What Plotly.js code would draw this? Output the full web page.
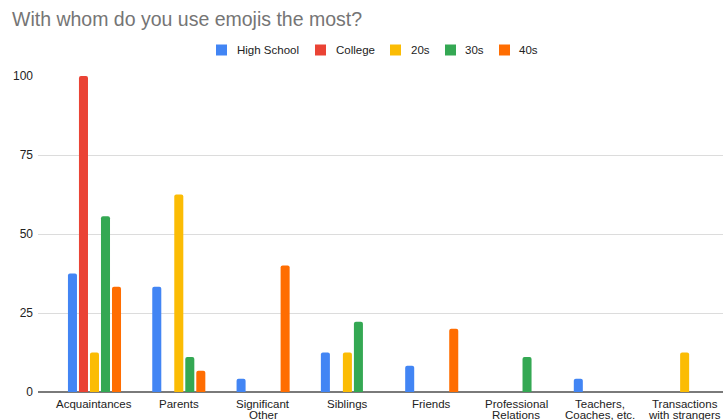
<!DOCTYPE html>
<html>
<head>
<meta charset="utf-8">
<script src="https://cdn.plot.ly/plotly-3.0.1.min.js"></script>
<style>html,body{margin:0;padding:0;background:#fff;}#chart{width:723px;height:420px;}</style>
</head>
<body>
<div id="chart"></div>
<script>
const categories = ["Acquaintances", "Parents", "Significant<br>Other", "Siblings", "Friends", "Professional<br>Relations", "Teachers,<br>Coaches, etc.", "Transactions<br>with strangers"];
const seriesNames = ["High School", "College", "20s", "30s", "40s"];
const highSchool = [37.5, 33.3, 4.2, 12.5, 8.3, 0, 4.2, 0];
const college = [100, 0, 0, 0, 0, 0, 0, 0];
const twenties = [12.5, 62.5, 0, 12.5, 0, 0, 0, 12.5];
const thirties = [55.6, 11.1, 0, 22.2, 0, 11.1, 0, 0];
const forties = [33.3, 6.7, 40, 0, 20, 0, 0, 0];
const yTicks = [0, 25, 50, 75, 100];

const colors = ["#4285F4", "#EA4335", "#FBBC04", "#34A853", "#FF6D01"];
const allSeries = [highSchool, college, twenties, thirties, forties];
const xIdx = categories.map((c, i) => i);

const traces = allSeries.map((vals, k) => ({
  type: "bar",
  name: seriesNames[k],
  x: xIdx,
  y: vals,
  marker: {color: colors[k], cornerradius: 2},
  hoverinfo: "none",
  showlegend: false
}));

const W = 723, H = 420, ML = 38, MR = 0, MT = 76, MB = 28;
const pw = W - ML - MR, ph = H - MT - MB;
const px2x = p => (p - ML) / pw;
const py2y = p => (H - MB - p) / ph;

const shapes = [];
const annotations = [];

// Legend drawn as layout shapes + annotations
const legendSquareLeft = [216, 315, 390, 445, 499];
const legendTextLeft = [235, 334, 409, 463, 517];
const legendCY = 50;
seriesNames.forEach((n, k) => {
  shapes.push({type: "rect", xref: "paper", yref: "paper",
    x0: px2x(legendSquareLeft[k]), x1: px2x(legendSquareLeft[k] + 11),
    y0: py2y(legendCY + 5.5), y1: py2y(legendCY - 5.5),
    fillcolor: colors[k], line: {width: 0}});
  annotations.push({xref: "paper", yref: "paper", x: px2x(legendTextLeft[k]), y: py2y(legendCY),
    xanchor: "left", yanchor: "middle", showarrow: false, text: n,
    font: {size: 11.5, color: "#222"}});
});

// Category labels (compact two-line spacing), placed on the x axis scale
categories.forEach((c, i) => {
  c.split("<br>").forEach((line, j) => {
    annotations.push({xref: "x", yref: "y", x: i, y: 0, xanchor: "center", yanchor: "middle",
      yshift: -11.5 - 11 * j, showarrow: false, text: line, borderpad: 0,
      font: {size: 11.5, color: "#222"}});
  });
});

const layout = {
  width: W, height: H,
  margin: {l: ML, r: MR, t: MT, b: MB},
  paper_bgcolor: "#fff", plot_bgcolor: "#fff",
  font: {family: "Liberation Sans, Arial, sans-serif", size: 12, color: "#222"},
  title: {text: "With whom do you use emojis the most?", x: 12 / W, xanchor: "left", y: 1 - 19.5 / H, yanchor: "middle",
          font: {size: 19.5, color: "#757575", family: "Liberation Sans, Arial, sans-serif"}},
  barmode: "group",
  bargap: 0.347,
  bargroupgap: 0.18,
  showlegend: false,
  shapes: shapes,
  annotations: annotations,
  xaxis: {
    range: [-0.67, 7.455],
    tickmode: "array", tickvals: xIdx, ticktext: categories,
    showticklabels: false,
    showgrid: false, zeroline: false, showline: false, ticks: "",
    fixedrange: true
  },
  yaxis: {
    range: [0, 100],
    tickmode: "array", tickvals: yTicks, ticktext: yTicks.map(String),
    showgrid: true, gridcolor: "#dcdcdc", gridwidth: 1,
    zeroline: true, zerolinecolor: "#7a7a7a", zerolinewidth: 1.5,
    showline: false, ticks: "", ticklen: 0, ticklabelstandoff: 4,
    tickfont: {size: 12, color: "#222"},
    fixedrange: true
  }
};

Plotly.newPlot("chart", traces, layout, {displayModeBar: false, staticPlot: true});
</script>
</body>
</html>
